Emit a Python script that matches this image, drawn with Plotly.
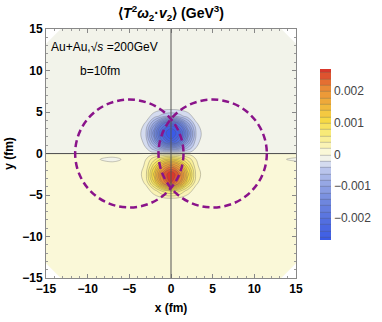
import numpy as np
import plotly.graph_objects as go

# grid (fm) and field values in units of 1e-4 GeV^3
x_fm = [-15, -11, -7, -4, -3, -2, -1, 0, 1, 2, 3, 4, 7, 11, 15]
y_fm = [-15, -10, -7, -5.5, -4.5, -3.5, -2.5, -1.5, -0.7, -0.2,
        0.2, 0.7, 1.5, 2.5, 3.5, 4.5, 5.5, 7, 10, 15]
z_1e4 = [
    [0.5] * 15,
    [0.5] * 15,
    [0.5] * 15,
    [0.5, 0.5, 0.5, 0.5, 0.6, 0.8, 1.0, 1.2, 1.0, 0.8, 0.6, 0.5, 0.5, 0.5, 0.5],
    [0.5, 0.5, 0.5, 0.5, 1.0, 3, 6.5, 8.5, 6.5, 3, 1.0, 0.5, 0.5, 0.5, 0.5],
    [0.5, 0.5, 0.5, 0.6, 2.5, 10, 20, 26.5, 20, 10, 2.5, 0.6, 0.5, 0.5, 0.5],
    [0.5, 0.5, 0.5, 0.8, 3.5, 13, 23.5, 28.5, 23.5, 13, 3.5, 0.8, 0.5, 0.5, 0.5],
    [0.5, 0.5, 0.5, 0.7, 2.5, 9.5, 17, 21, 17, 9.5, 2.5, 0.7, 0.5, 0.5, 0.5],
    [0.5, 0.5, -0.3, 0.6, 2.0, 5.5, 9, 11, 9, 5.5, 2.0, 0.6, 0.5, 0.5, -0.2],
    [0.3, 0.3, 0.3, 0.4, 1.2, 2.5, 3.5, 4, 3.5, 2.5, 1.2, 0.4, 0.3, 0.3, 0.3],
    [-0.4, -0.4, -0.4, -0.5, -1.2, -2.5, -3.5, -4, -3.5, -2.5, -1.2, -0.5, -0.4, -0.4, -0.4],
    [-0.5, -0.5, -0.5, -0.6, -2, -6, -10.5, -12.5, -10.5, -6, -2, -0.6, -0.5, -0.5, -0.5],
    [-0.5, -0.5, -0.5, -0.7, -3, -11, -20, -25, -20, -11, -3, -0.7, -0.5, -0.5, -0.5],
    [-0.5, -0.5, -0.5, -0.8, -4, -14, -24, -29, -24, -14, -4, -0.8, -0.5, -0.5, -0.5],
    [-0.5, -0.5, -0.5, -0.6, -2.5, -9.5, -18, -23, -18, -9.5, -2.5, -0.6, -0.5, -0.5, -0.5],
    [-0.5, -0.5, -0.5, -0.5, -1, -3, -5, -6, -5, -3, -1, -0.5, -0.5, -0.5, -0.5],
    [-0.5, -0.5, -0.5, -0.5, -0.6, -0.8, -0.9, -1.0, -0.9, -0.8, -0.6, -0.5, -0.5, -0.5, -0.5],
    [-0.5] * 15,
    [-0.5] * 15,
    [-0.5] * 15,
]
z = np.array(z_1e4) * 1e-4

cbar_vals = [-0.002, -0.001, 0, 0.001, 0.002]
cbar_text = ["\u22120.002", "\u22120.001", "0", "0.001", "0.002"]

nucleus_x = [-5, 5]   # b = 10 fm
nucleus_r = 6.5
domain_r = 20
lim = 15

font = "Liberation Sans, Arial, sans-serif"

colorscale = [
    [0.0, "#3a5ae6"], [0.111, "#526ee0"], [0.222, "#6e86de"],
    [0.333, "#96a7e4"], [0.407, "#b9c4ec"], [0.444, "#d4dbef"],
    [0.4815, "#f2f3ea"], [0.5185, "#faf8d8"], [0.556, "#faf3b5"],
    [0.63, "#f8ea78"], [0.704, "#f6d945"], [0.778, "#f1b93c"],
    [0.889, "#e98a36"], [1.0, "#d9382b"],
]

fig = go.Figure()
fig.add_trace(go.Contour(
    x=x_fm, y=y_fm, z=z,
    colorscale=colorscale,
    contours=dict(start=-0.0026, end=0.0026, size=0.0002, coloring="fill"),
    line=dict(color="rgba(90,90,90,0.55)", width=0.6, smoothing=1.2),
    colorbar=dict(
        x=(320 - 46) / 250, xanchor="left", xpad=0, ypad=0,
        y=(278 - 154.5) / 249, yanchor="middle",
        len=171, lenmode="pixels", thickness=11, outlinewidth=0,
        tickvals=cbar_vals, ticktext=cbar_text, ticks="",
        tickfont=dict(family=font, size=12, color="#444"),
    ),
    hoverinfo="skip",
))

# blank out the corners outside the computed domain
cut = np.sqrt(domain_r ** 2 - lim ** 2)
cx, cy = [], []
for sx in (-1, 1):
    for sy in (-1, 1):
        cx += [sx * lim, sx * lim, sx * cut, sx * lim, None]
        cy += [sy * cut, sy * lim, sy * lim, sy * cut, None]
fig.add_trace(go.Scatter(x=cx, y=cy, mode="lines", fill="toself",
                         fillcolor="white", line=dict(width=0),
                         hoverinfo="skip", showlegend=False))

shapes = [
    dict(type="line", xref="x", yref="paper", x0=0, x1=0, y0=0, y1=1,
         line=dict(color="#555", width=1), layer="above"),
    dict(type="line", xref="paper", yref="y", x0=0, x1=1, y0=0, y1=0,
         line=dict(color="#555", width=1), layer="above"),
]
for c in nucleus_x:
    shapes.append(dict(type="circle", xref="x", yref="y",
                       x0=c - nucleus_r, x1=c + nucleus_r,
                       y0=-nucleus_r, y1=nucleus_r,
                       line=dict(color="#8a138a", width=2.5, dash="7px,4px"),
                       layer="above"))

axis = dict(range=[-lim, lim], dtick=5, ticks="inside", ticklen=4,
            tickcolor="#888", showline=True, linecolor="#888", linewidth=1,
            mirror="ticks", showgrid=False, zeroline=False,
            minor=dict(dtick=1, ticks="inside", ticklen=2, tickcolor="#999"),
            tickfont=dict(family=font, size=12, color="black", weight="bold"),
            automargin=False)

fig.update_layout(
    width=382, height=322,
    margin=dict(l=46, r=86, t=29, b=44),
    paper_bgcolor="white", plot_bgcolor="white",
    showlegend=False,
    shapes=shapes,
    title=dict(text="\u27e8<i>T</i><sup>2</sup><i>\u03c9</i><sub>2</sub>\u00b7<i>v</i><sub>2</sub>\u27e9 (GeV<sup>3</sup>)",
               x=171 / 382, xanchor="center", y=1 - 13 / 322, yanchor="middle",
               font=dict(family=font, size=14, color="black", weight="bold")),
    xaxis=dict(axis, title=dict(text="x (fm)", standoff=8,
                                font=dict(family=font, size=12, color="black", weight="bold"))),
    yaxis=dict(axis, title=dict(text="y (fm)", standoff=6,
                                font=dict(family=font, size=12, color="black", weight="bold"))),
    annotations=[
        dict(x=-14.6, y=12.8, xref="x", yref="y", xanchor="left", yanchor="middle",
             text="Au+Au,\u221a<i>s</i> =200GeV", showarrow=False,
             font=dict(family=font, size=12, color="black")),
        dict(x=-11.2, y=10.0, xref="x", yref="y", xanchor="left", yanchor="middle",
             text="b=10fm", showarrow=False,
             font=dict(family=font, size=12, color="black")),
    ],
)

fig.write_html("out.html", config={"displayModeBar": False},
               post_script="document.body.style.margin='0';")
